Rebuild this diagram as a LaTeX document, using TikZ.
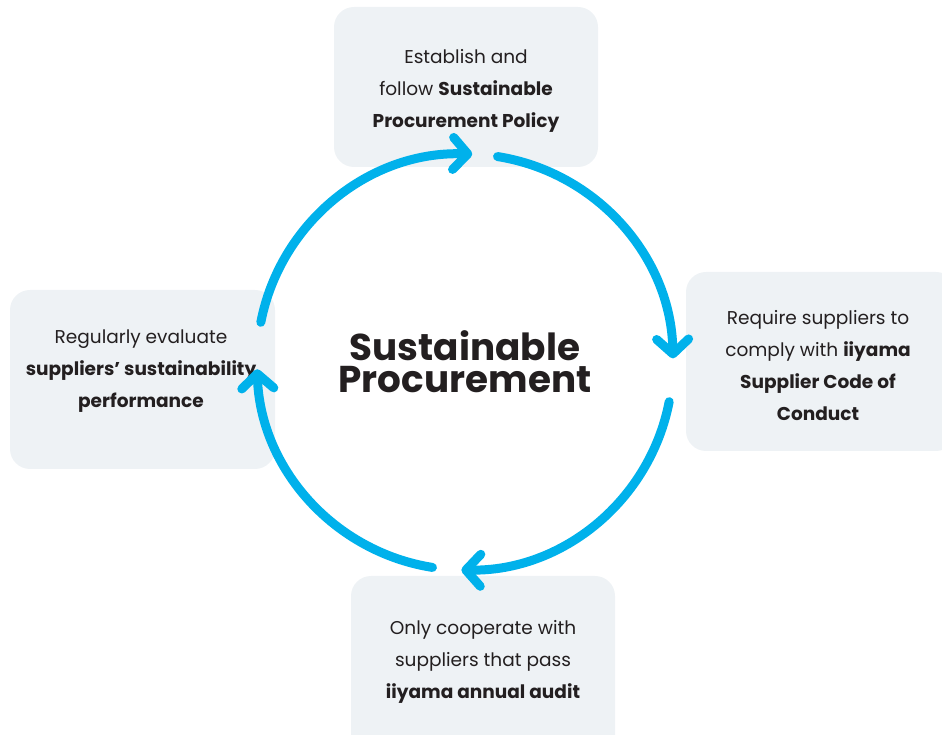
\documentclass[tikz,border=0pt]{standalone}
\usepackage{fontspec}
\setmainfont{Poppins}
\usetikzlibrary{arrows.meta,calc}

\definecolor{cyclecyan}{HTML}{00B1EB}
\definecolor{boxgrey}{HTML}{EEF2F5}
\definecolor{inkdark}{HTML}{231F20}

\begin{document}
\begin{tikzpicture}[x=0.75pt,y=0.75pt,
  stepbox/.style={fill=boxgrey, rounded corners=15pt},
  steptext/.style={text=inkdark, align=center, font=\fontsize{13.9pt}{24pt}\selectfont},
  cyclearrow/.style={cyclecyan, line width=6.75pt, line cap=round,
    -{Straight Barb[length=11pt,width=24pt,round]}}]

  % Fix the page to the size of the reference
  \useasboundingbox (0,0) rectangle (942,735);

  % Centre of the cycle
  \coordinate (O) at (465,373);

  % Grey boxes behind the four steps
  \fill[stepbox] (334,568) rectangle (598,728);
  \fill[stepbox] (686,284) rectangle (956,463);
  \fill[stepbox] (10,266) rectangle (275,445);
  \fill[stepbox] (351,-20) rectangle (615,159);

  % Texts of the steps
  \node[steptext] (policy) at (466,644)
    {Establish and\\ follow \textbf{Sustainable}\\ \textbf{Procurement Policy}};
  \node[steptext] (conduct) at (818,369)
    {Require suppliers to\\ comply with \textbf{iiyama}\\ \textbf{Supplier Code of}\\ \textbf{Conduct}};
  \node[steptext] (audit) at (483,73)
    {Only cooperate with\\ suppliers that pass\\ \textbf{iiyama annual audit}};
  \node[steptext] (evaluate) at (141,364)
    {Regularly evaluate\\ \textbf{suppliers’ sustainability}\\ \textbf{performance}};

  % Title in the middle
  \node[text=inkdark, align=center, font=\fontsize{28pt}{24pt}\selectfont\bfseries]
    (title) at (O) {Sustainable\\ Procurement};

  % Four arcs round the centre, each ending in an arrow
  \foreach \s/\e in {169/88, 81/1, -11/-91, -99/-178}
    \draw[cyclearrow] ($(O)+(\s:156pt)$) arc[start angle=\s, end angle=\e, radius=156pt];

\end{tikzpicture}
\end{document}
